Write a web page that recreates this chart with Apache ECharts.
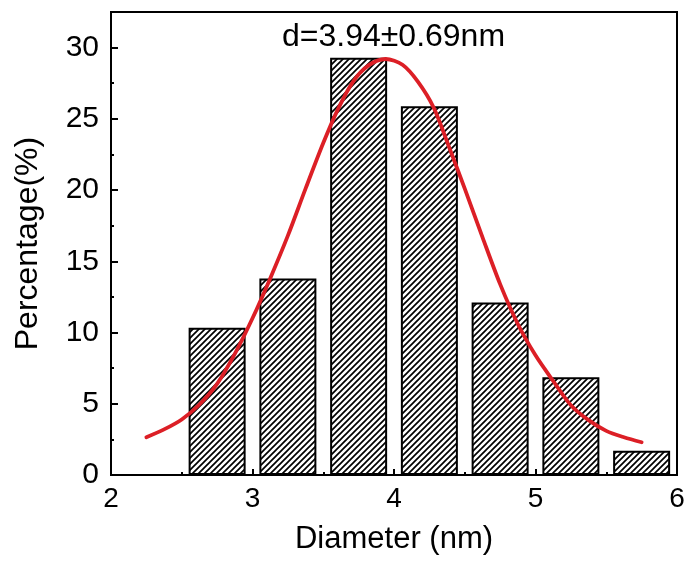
<!DOCTYPE html>
<html>
<head>
<meta charset="utf-8">
<script src="https://cdn.jsdelivr.net/npm/echarts@6/dist/echarts.min.js"></script>
<style>
html,body{margin:0;padding:0;background:#fff;}
#chart{width:689px;height:565px;}
</style>
</head>
<body>
<div id="chart"></div>
<script>
// ---- data ----
const binCenters = [2.75, 3.25, 3.75, 4.25, 4.75, 5.25, 5.75];
const percentages = [10.34, 13.8, 29.29, 25.88, 12.1, 6.87, 1.70];
const fitX = [2.25, 2.375, 2.5, 2.625, 2.75, 2.875, 3.0, 3.125, 3.25, 3.375, 3.5, 3.6, 3.71, 3.82, 3.94, 4.06, 4.17, 4.28, 4.39, 4.5, 4.625, 4.75, 4.875, 5.0, 5.125, 5.25, 5.375, 5.5, 5.625, 5.75];
const fitY = [2.65, 3.2, 3.9, 4.95, 6.4, 8.5, 11.0, 13.8, 16.8, 20.1, 23.3, 25.6, 27.6, 28.75, 29.2, 28.8, 27.6, 25.8, 23.0, 20.1, 16.7, 13.4, 10.6, 8.4, 6.6, 4.9, 3.85, 3.1, 2.65, 2.3];
const xRange = [2, 6];
const yRange = [0, 32.5];
const annotation = 'd=3.94±0.69nm';
const xName = 'Diameter (nm)';
const yName = 'Percentage(%)';

function makeHatch() {
  const c = document.createElement('canvas');
  c.width = 6; c.height = 6;
  const g = c.getContext('2d');
  g.fillStyle = '#fff';
  g.fillRect(0, 0, 6, 6);
  g.strokeStyle = '#000';
  g.lineWidth = 1.7;
  g.beginPath();
  g.moveTo(-1, 7); g.lineTo(7, -1);
  g.moveTo(-1, 1); g.lineTo(1, -1);
  g.moveTo(5, 7); g.lineTo(7, 5);
  g.stroke();
  return c;
}

const FONT = 'Liberation Sans, Arial, sans-serif';
const chart = echarts.init(document.getElementById('chart'), null, {renderer: 'canvas'});
const barData = binCenters.map((x, i) => [x, percentages[i]]);
const fitData = fitX.map((x, i) => [x, fitY[i]]);

chart.setOption({
  animation: false,
  backgroundColor: '#fff',
  grid: {left: 111, right: 12, top: 12, bottom: 90, show: true, borderColor: '#000', borderWidth: 2, backgroundColor: 'transparent'},
  xAxis: {
    type: 'value', min: xRange[0], max: xRange[1], interval: 1,
    name: xName, nameLocation: 'middle', nameGap: 49,
    nameTextStyle: {fontFamily: FONT, fontSize: 31, color: '#000'},
    axisLine: {show: true, onZero: false, lineStyle: {color: '#000', width: 2}},
    axisTick: {show: true, inside: true, length: 6, lineStyle: {color: '#000', width: 2}},
    minorTick: {show: true, splitNumber: 2, length: 3, lineStyle: {color: '#000', width: 2}},
    axisLabel: {fontFamily: FONT, fontSize: 28, color: '#000', margin: 10},
    splitLine: {show: false}
  },
  yAxis: [{
    type: 'value', min: yRange[0], max: yRange[1], interval: 5,
    name: yName, nameLocation: 'middle', nameGap: 67,
    nameTextStyle: {fontFamily: FONT, fontSize: 32, color: '#000'},
    axisLine: {show: true, lineStyle: {color: '#000', width: 2}},
    axisTick: {show: true, inside: true, length: 7, lineStyle: {color: '#000', width: 2}},
    axisLabel: {fontFamily: FONT, fontSize: 30, color: '#000', margin: 12, showMaxLabel: false,
      formatter: v => (v % 5 === 0 ? String(v) : '')},
    splitLine: {show: false}
  }, {
    type: 'value', min: yRange[0], max: yRange[1], interval: 2.5, position: 'left', offset: 0,
    axisLine: {show: false},
    axisTick: {show: true, inside: true, length: 3, lineStyle: {color: '#000', width: 2}},
    axisLabel: {show: false},
    splitLine: {show: false}
  }],
  graphic: [{
    type: 'text', left: 282, top: 21, z: 10,
    style: {text: annotation, font: '32px ' + FONT, fill: '#000'}
  }],
  series: [{
    type: 'bar', data: barData, barWidth: 57, yAxisIndex: 0,
    itemStyle: {color: {image: makeHatch(), repeat: 'repeat'}, borderColor: '#000', borderWidth: 2}
  }, {
    type: 'line', data: fitData, smooth: 0.3, symbol: 'none', yAxisIndex: 0, z: 5,
    lineStyle: {color: '#dc1f26', width: 3.8, join: 'round', cap: 'round'}
  }]
});
</script>
</body>
</html>
